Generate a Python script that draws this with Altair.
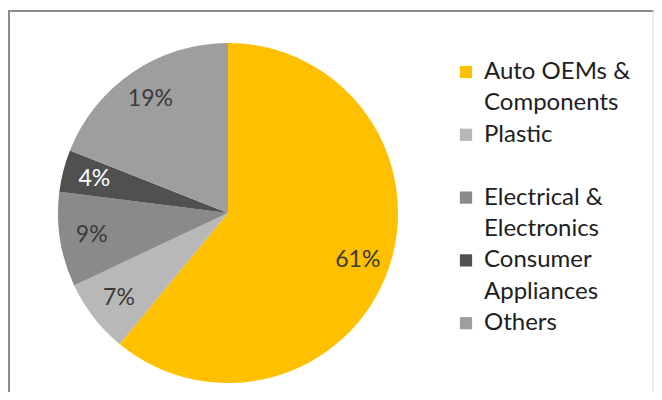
import altair as alt
import pandas as pd

categories = ["Auto OEMs & Components", "Plastic", "Electrical & Electronics",
              "Consumer Appliances", "Others"]
values = [61, 7, 9, 4, 19]
colors = ["#FFC000", "#B8B8B8", "#8A8A8A", "#505050", "#9E9E9E"]
legend_lines = [["Auto OEMs &", "Components"], ["Plastic", ""],
                ["Electrical &", "Electronics"], ["Consumer", "Appliances"], ["Others"]]

df = pd.DataFrame({
    "category": categories,
    "value": values,
    "order": list(range(len(categories))),
    "label": [f"{v}%" for v in values],
})

# legend layout
LEG_TOP = 64
LINE_H = 31.4
rows = []
sq = []
i = 0
for cat, lines in zip(categories, legend_lines):
    sq.append({"category": cat, "y": LEG_TOP + i * LINE_H})
    for ln in lines:
        rows.append({"text": ln, "y": LEG_TOP + i * LINE_H})
        i += 1
leg_text = pd.DataFrame(rows)
leg_sq = pd.DataFrame(sq)

color_scale = alt.Scale(domain=categories, range=colors)
CX, CY, R = 220, 205, 170

base = alt.Chart(df).encode(
    theta=alt.Theta("value:Q", stack=True),
    order=alt.Order("order:Q"),
    x=alt.value(CX), y=alt.value(CY),
)
pie = base.mark_arc(outerRadius=R).encode(
    color=alt.Color("category:N", scale=color_scale, legend=None)
)
labels = base.mark_text(radius=138, font="Lato", fontSize=23).encode(
    text="label:N",
    color=alt.condition(alt.datum.category == "Consumer Appliances",
                        alt.value("#ffffff"), alt.value("#3a3a3a")),
)

squares = alt.Chart(leg_sq).mark_square(size=150, opacity=1).encode(
    x=alt.value(458),
    y=alt.Y("y:Q", scale=None),
    color=alt.Color("category:N", scale=color_scale, legend=None),
)
ltext = alt.Chart(leg_text).mark_text(align="left", baseline="middle", font="Lato",
                                      fontSize=24, color="#1e1e1e").encode(
    x=alt.value(476),
    y=alt.Y("y:Q", scale=None),
    text="text:N",
)

one = pd.DataFrame({"a": [0]})
border_top = alt.Chart(one).mark_rule(stroke="#8c8c8c", strokeWidth=2).encode(
    x=alt.value(0), x2=alt.value(646), y=alt.value(3))
border_left = alt.Chart(one).mark_rule(stroke="#8c8c8c", strokeWidth=2).encode(
    x=alt.value(1), y=alt.value(2), y2=alt.value(384))
border_right = alt.Chart(one).mark_rule(stroke="#d8d8d8", strokeWidth=1).encode(
    x=alt.value(645), y=alt.value(2), y2=alt.value(384))

chart = alt.layer(border_top, border_left, border_right, pie, labels, squares, ltext).properties(
    width=646, height=384, padding=0,
    autosize=alt.AutoSizeParams(type="none"),
).configure_view(stroke=None)

chart.save("out.html", embed_options={"renderer": "svg", "actions": False})
